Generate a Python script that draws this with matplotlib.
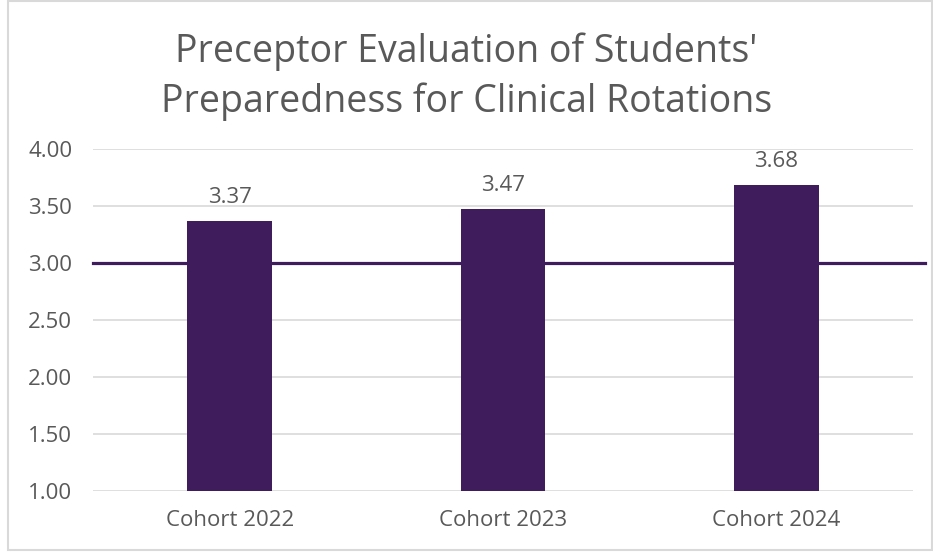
import matplotlib.pyplot as plt

cohorts = ['Cohort 2022', 'Cohort 2023', 'Cohort 2024']
scores = [3.37, 3.47, 3.68]
benchmark = 3.00
yticks = [1.00, 1.50, 2.00, 2.50, 3.00, 3.50, 4.00]
title_lines = ["Preceptor Evaluation of Students'", "Preparedness for Clinical Rotations"]

purple = '#3f1d5c'
gray = '#595959'

plt.rcParams['font.family'] = ['Open Sans', 'DejaVu Sans']

fig = plt.figure(figsize=(9.33, 5.52), dpi=100)
ax = fig.add_axes([93 / 933, 1 - 491 / 552, 820 / 933, 342 / 552])

x = range(len(cohorts))
bars = ax.bar(x, scores, width=0.31, color=purple, zorder=3)
for b, v in zip(bars, scores):
    ax.text(b.get_x() + b.get_width() / 2, v + 0.16, f'{v:.2f}',
            ha='center', va='baseline', fontsize=16, color=gray)

# target line runs a bit past the plot area
ax.axhline(benchmark, xmin=0, xmax=1.015, color=purple, lw=2.3, zorder=4, clip_on=False)

ax.set_xlim(-0.5, 2.5)
ax.set_ylim(1.0, 4.0)
ax.set_yticks(yticks)
ax.set_yticklabels([f'{t:.2f}' for t in yticks])
ax.set_xticks(list(x))
ax.set_xticklabels(cohorts)
ax.tick_params(axis='both', length=0, labelsize=16, labelcolor=gray)
ax.tick_params(axis='y', pad=15)
ax.tick_params(axis='x', pad=14)
ax.grid(axis='y', color='#d9d9d9', lw=1.2, zorder=0)
for s in ax.spines.values():
    s.set_visible(False)

# two-line title, baselines placed separately
fig.text(0.5, 1 - 62 / 552, title_lines[0], ha='center', va='baseline', fontsize=27, color=gray)
fig.text(0.5, 1 - 112 / 552, title_lines[1], ha='center', va='baseline', fontsize=27, color=gray)

# light frame around the chart
fig.patches.append(plt.Rectangle((0.009, 0.004), 0.99, 0.995, transform=fig.transFigure,
                                 fill=False, edgecolor='#d9d9d9', lw=1.5))

fig.savefig('out.png', dpi=100)
